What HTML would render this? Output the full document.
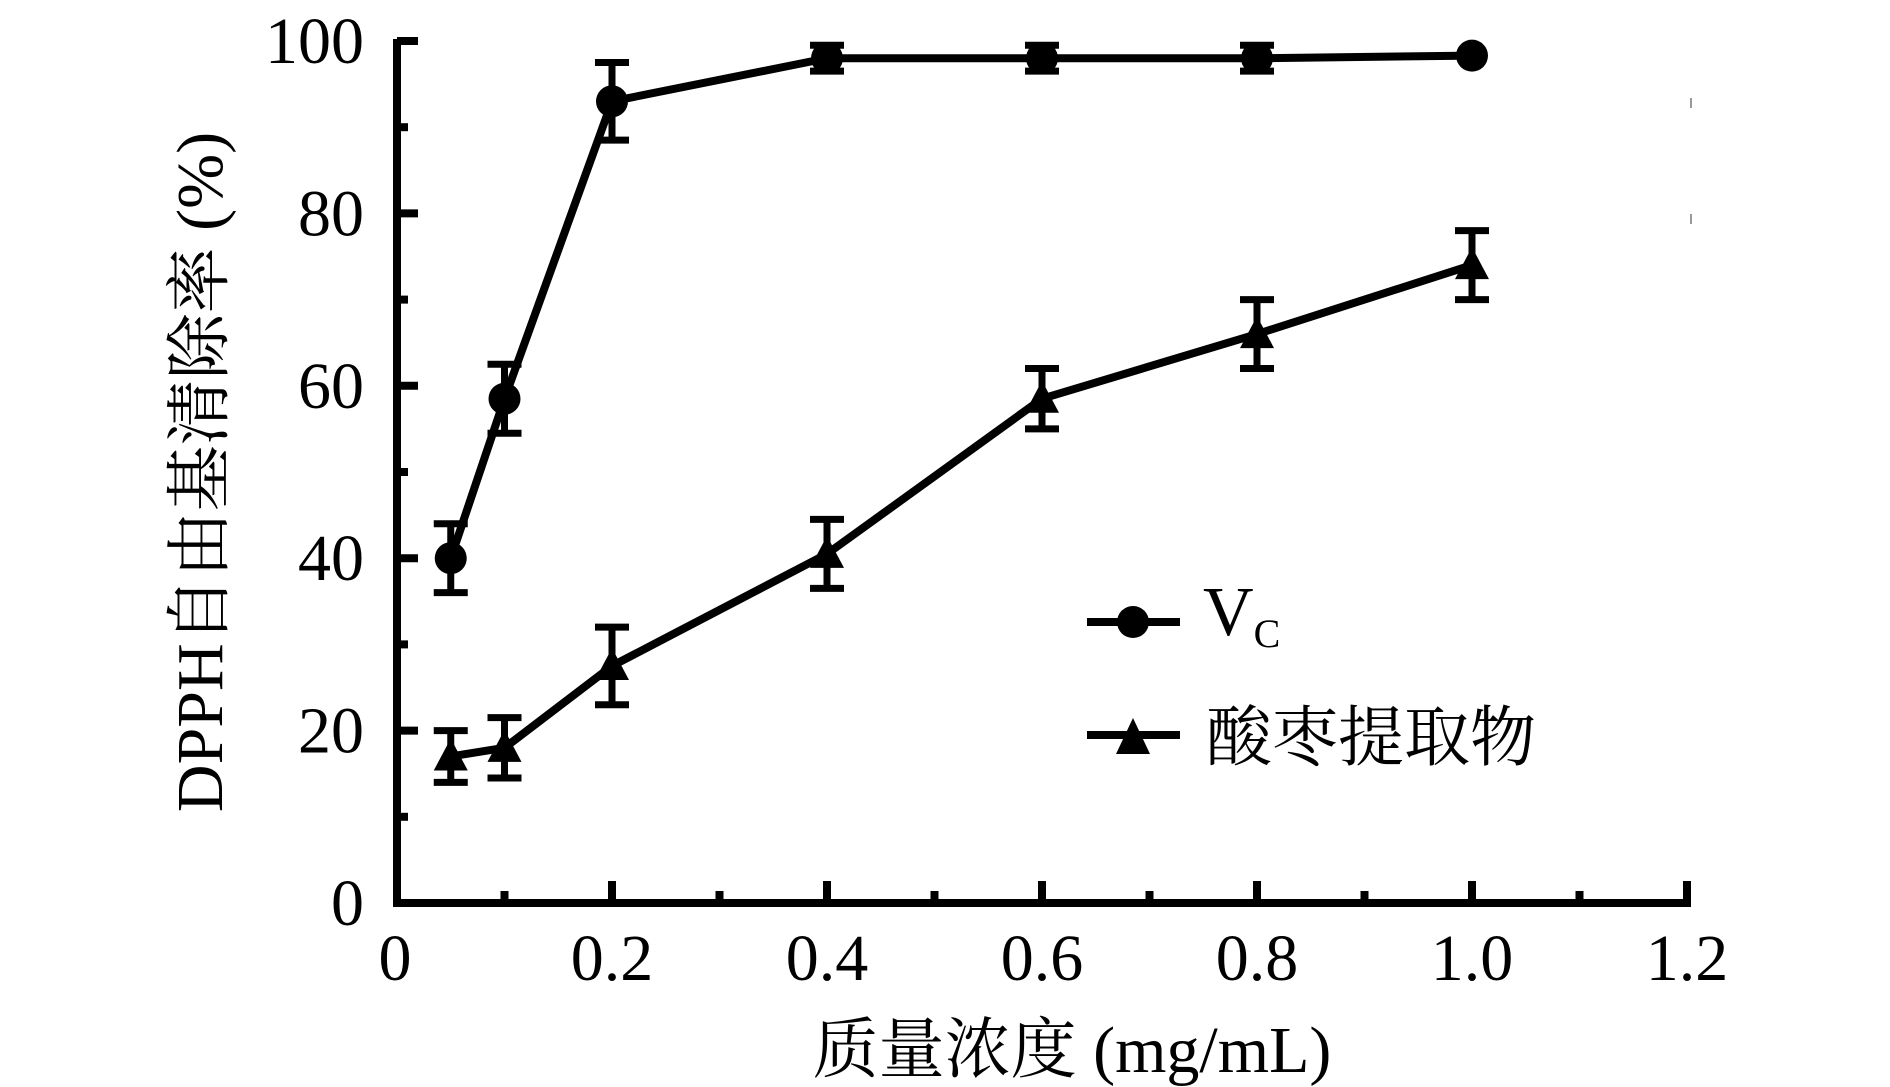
<!DOCTYPE html>
<html><head><meta charset="utf-8"><style>
html,body{margin:0;padding:0;background:#fff;}
svg{display:block;}
text{fill:#000;}
.t{font-family:"Liberation Serif","Noto Serif CJK SC",serif;}
</style></head>
<body>
<svg id="chart" width="1890" height="1087" viewBox="0 0 1890 1087" xmlns="http://www.w3.org/2000/svg">
<g id="axes"></g>
<g id="series"></g>
<g id="legend">
  <line x1="1087" y1="622" x2="1180" y2="622" stroke="#000" stroke-width="8"/>
  <circle cx="1133" cy="622" r="16" fill="#000"/>
  <text class="t" x="1203" y="635" font-size="70">V<tspan font-size="40" dy="12">C</tspan></text>
  <line x1="1087" y1="735" x2="1180" y2="735" stroke="#000" stroke-width="8"/>
  <polygon points="1133,718 1150,754 1116,754" fill="#000"/>
  <text class="t" x="1206" y="760" font-size="66">酸枣提取物</text>
</g>
<text class="t" x="1072" y="1072" font-size="66" text-anchor="middle">质量浓度 (mg/mL)</text>
<text class="t" transform="translate(222,472) rotate(-90)" font-size="66" text-anchor="middle">DPPH自由基清除率 (%)</text>
<line x1="1691" y1="98" x2="1691" y2="108" stroke="#999" stroke-width="2"/>
<line x1="1691" y1="214" x2="1691" y2="224" stroke="#999" stroke-width="2"/>
</svg>
<script>
const xCats = [0.05, 0.1, 0.2, 0.4, 0.6, 0.8, 1.0];
const vcValues = [40, 58.5, 93, 98, 98, 98, 98.3];
const vcErrors = [4, 4, 4.5, 1.5, 1.5, 1.5, 0];
const extractValues = [17, 18, 27.5, 40.5, 58.5, 66, 74];
const extractErrors = [3, 3.5, 4.5, 4, 3.5, 4, 4];
const xTickLabels = ["0", "0.2", "0.4", "0.6", "0.8", "1.0", "1.2"];
const yTickLabels = ["0", "20", "40", "60", "80", "100"];

const NS = "http://www.w3.org/2000/svg";
const X0 = 397, XK = 1075, Y0 = 903, YK = 8.62;
function xs(v){ return X0 + v * XK; }
function ys(v){ return Y0 - v * YK; }
function mk(tag, attrs, parent){
  const e = document.createElementNS(NS, tag);
  for (const k in attrs) e.setAttribute(k, attrs[k]);
  parent.appendChild(e);
  return e;
}
const axes = document.getElementById('axes');
const series = document.getElementById('series');

let el = mk('path', {d:`M${X0} ${ys(100)-2} V${Y0} H${xs(1.2)+4}`, fill:'none', stroke:'#000', 'stroke-width':8}, axes);



for (let v = 0; v <= 100; v += 10) {
  const major = v % 20 === 0;
  const t = mk('line', {x1:X0, x2:X0 + (major ? 21 : 11), y1:ys(v), y2:ys(v), stroke:'#000', 'stroke-width':8}, axes);
  
  
}
yTickLabels.forEach(s => {
  const v = parseFloat(s);
  const t = mk('text', {x:364, y:ys(v)+22, 'font-size':66, 'text-anchor':'end', class:'t'}, axes);
  t.textContent = s;
  
  
});
for (let i = 1; i <= 12; i++) {
  const v = i / 10;
  const major = i % 2 === 0;
  const t = mk('line', {x1:xs(v), x2:xs(v), y1:Y0, y2:Y0 - (major ? 22 : 12), stroke:'#000', 'stroke-width':8}, axes);
  
  
}
xTickLabels.forEach(s => {
  const v = parseFloat(s);
  const t = mk('text', {x:xs(v) - (v === 0 ? 2 : 0), y:980, 'font-size':66, 'text-anchor':'middle', class:'t'}, axes);
  t.textContent = s;
  
  
});

function drawSeries(name, vals, errs, marker){
  const g = mk('g', {}, series);
  
  
  const pts = xCats.map((x, i) => `${xs(x)},${ys(vals[i])}`).join(' ');
  const pl = mk('polyline', {points:pts, fill:'none', stroke:'#000', 'stroke-width':8, 'stroke-linejoin':'round'}, g);
  
  
  xCats.forEach((x, i) => {
    const cx = xs(x), cy = ys(vals[i]);
    if (errs[i] > 0) {
      const top = ys(vals[i] + errs[i]), bot = ys(vals[i] - errs[i]);
      const eb = mk('path', {d:`M${cx} ${top} V${bot} M${cx-17} ${top} H${cx+17} M${cx-17} ${bot} H${cx+17}`, fill:'none', stroke:'#000', 'stroke-width':7}, g);
      
      
    }
    let m;
    if (marker === 'circle') {
      m = mk('circle', {cx:cx, cy:cy, r:16, fill:'#000'}, g);
    } else {
      m = mk('polygon', {points:`${cx},${cy-18} ${cx+17},${cy+14} ${cx-17},${cy+14}`, fill:'#000'}, g);
    }
    
    
  });
}
drawSeries('vc', vcValues, vcErrors, 'circle');
drawSeries('extract', extractValues, extractErrors, 'triangle');
</script>
</body></html>
